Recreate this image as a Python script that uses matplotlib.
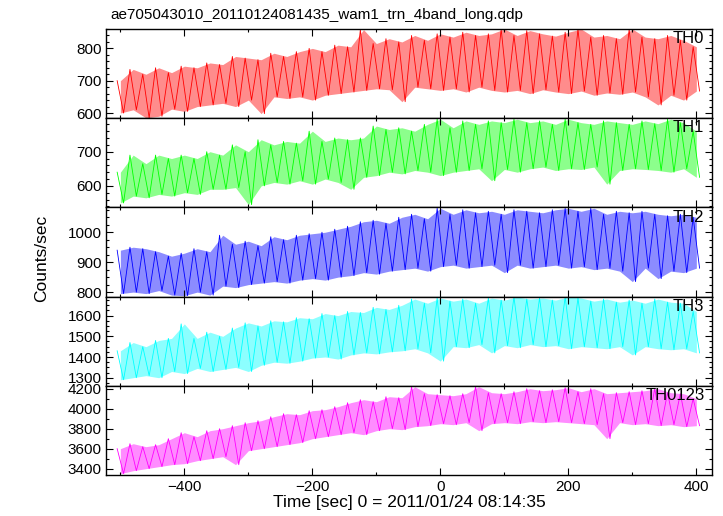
import numpy as np
import matplotlib
matplotlib.use("Agg")
from matplotlib import pyplot as plt
from matplotlib.ticker import MultipleLocator

plt.rcParams['font.family'] = ['Liberation Sans', 'DejaVu Sans']

TITLE = "ae705043010_20110124081435_wam1_trn_4band_long.qdp"
XLABEL = "Time [sec] 0 = 2011/01/24 08:14:35"
YLABEL = "Counts/sec"

# bin centres, 20 s apart (sec)
t = np.arange(-500, 401, 20)

# upper / lower extent of the light curve in each bin
th0_hi = [700, 735, 720, 740, 725, 745, 740, 755, 750, 775, 770, 765, 785, 775, 790, 800,
          790, 810, 805, 858, 815, 830, 820, 840, 825, 845, 835, 850, 840, 845, 860, 840,
          855, 845, 838, 850, 860, 835, 840, 830, 860, 835, 830, 840, 825, 805]
th0_lo = [600, 610, 585, 590, 612, 605, 620, 625, 630, 620, 640, 598, 650, 645, 650, 640,
          655, 660, 665, 670, 675, 672, 635, 680, 675, 670, 675, 665, 680, 670, 665, 670,
          660, 672, 665, 660, 668, 655, 662, 658, 665, 650, 625, 655, 640, 668]

th1_hi = [640, 690, 665, 690, 680, 690, 680, 700, 690, 720, 700, 735, 720, 730, 725, 760,
          730, 740, 735, 740, 775, 765, 770, 760, 780, 795, 770, 790, 780, 790, 785, 795,
          785, 790, 780, 795, 785, 780, 790, 785, 780, 790, 782, 795, 785, 760]
th1_lo = [550, 570, 565, 575, 570, 580, 575, 590, 590, 595, 545, 600, 610, 605, 615, 605,
          620, 610, 590, 625, 630, 640, 635, 645, 640, 630, 640, 645, 650, 615, 648, 640,
          650, 655, 645, 650, 648, 655, 605, 645, 650, 648, 645, 640, 650, 625]

th2_hi = [940, 950, 945, 935, 920, 930, 945, 935, 990, 960, 970, 955, 985, 975, 990, 995,
          1000, 1010, 1020, 1035, 1040, 1030, 1050, 1060, 1045, 1080, 1060, 1075, 1065, 1070, 1060, 1075,
          1070, 1065, 1075, 1080, 1070, 1080, 1060, 1070, 1065, 1070, 1060, 1055, 1060, 1050]
th2_lo = [795, 800, 795, 805, 790, 788, 800, 790, 820, 815, 825, 830, 835, 830, 840, 845,
          840, 850, 855, 865, 860, 870, 875, 880, 870, 885, 890, 880, 885, 890, 865, 890,
          880, 885, 890, 880, 885, 875, 880, 870, 835, 880, 845, 870, 865, 880]

th3_hi = [1430, 1470, 1450, 1480, 1490, 1560, 1490, 1520, 1500, 1540, 1565, 1550, 1575, 1570, 1590, 1585,
          1610, 1600, 1620, 1615, 1640, 1630, 1650, 1680, 1660, 1685, 1670, 1680, 1660, 1685, 1675, 1690,
          1680, 1685, 1675, 1690, 1685, 1670, 1680, 1665, 1675, 1660, 1680, 1665, 1660, 1620]
th3_lo = [1290, 1300, 1310, 1300, 1330, 1320, 1345, 1330, 1340, 1350, 1330, 1360, 1375, 1370, 1380, 1395,
          1400, 1390, 1410, 1420, 1415, 1425, 1430, 1440, 1420, 1380, 1450, 1445, 1460, 1420, 1455, 1445,
          1460, 1450, 1455, 1440, 1450, 1445, 1440, 1450, 1410, 1450, 1440, 1435, 1440, 1420]

thall_hi = [3600, 3650, 3620, 3640, 3700, 3760, 3720, 3780, 3800, 3830, 3860, 3880, 3920, 3950, 3940, 3980,
            3990, 4020, 4060, 4090, 4070, 4120, 4110, 4220, 4150, 4140, 4130, 4150, 4220, 4160, 4150, 4170,
            4200, 4180, 4190, 4210, 4170, 4200, 4150, 4160, 4170, 4180, 4200, 4160, 4150, 4100]
thall_lo = [3350, 3380, 3400, 3420, 3440, 3450, 3480, 3500, 3520, 3440, 3580, 3600, 3620, 3640, 3660, 3700,
            3720, 3740, 3760, 3740, 3780, 3800, 3790, 3820, 3830, 3850, 3840, 3860, 3780, 3850, 3860, 3850,
            3870, 3860, 3870, 3860, 3850, 3840, 3700, 3860, 3840, 3850, 3830, 3840, 3820, 3830]

PANELS = [
    ("TH0", th0_hi, th0_lo, "#ff0000", (584, 860), 100, 20),
    ("TH1", th1_hi, th1_lo, "#00ff00", (537, 798), 100, 20),
    ("TH2", th2_hi, th2_lo, "#0000ff", (785, 1083), 100, 25),
    ("TH3", th3_hi, th3_lo, "#00ffff", (1261, 1692), 100, 25),
    ("TH0123", thall_hi, thall_lo, "#ff00ff", (3337, 4229), 200, 100),
]

fig, axes = plt.subplots(5, 1, sharex=True, figsize=(7.23, 5.16), dpi=100)
fig.subplots_adjust(left=0.147, right=0.9844, top=0.9438, bottom=0.0795, hspace=0)

for ax, (name, hi, lo, col, ylim, major, minor) in zip(axes, PANELS):
    # light band for the spread, zig-zag between extremes for the noisy look
    x = np.column_stack([t - 5, t + 5]).ravel()
    y = np.column_stack([hi, lo]).ravel()
    ax.fill_between(t, lo, hi, color=col, alpha=0.45, linewidth=0)
    ax.plot(x, y, color=col, linewidth=0.6)
    ax.set_ylim(*ylim)
    ax.yaxis.set_major_locator(MultipleLocator(major))
    ax.yaxis.set_minor_locator(MultipleLocator(minor))
    ax.text(0.988, 0.975, name, transform=ax.transAxes, ha='right', va='top', fontsize=12)
    ax.tick_params(which='both', direction='in', top=True, right=True, labelsize=11)
    ax.tick_params(which='major', length=5, width=0.8)
    ax.tick_params(which='minor', length=2.5, width=0.8)
    for s in ax.spines.values():
        s.set_linewidth(1.0)

axes[-1].set_xlim(-522, 424)
axes[-1].xaxis.set_major_locator(MultipleLocator(200))
axes[-1].xaxis.set_minor_locator(MultipleLocator(100))
axes[-1].set_xlabel(XLABEL, fontsize=12.5, labelpad=1)
fig.text(0.058, 0.5, YLABEL, rotation=90, ha='center', va='center', fontsize=12.5)
fig.text(0.152, 0.97, TITLE, ha='left', va='center', fontsize=11)

fig.savefig("out.png", dpi=100)
